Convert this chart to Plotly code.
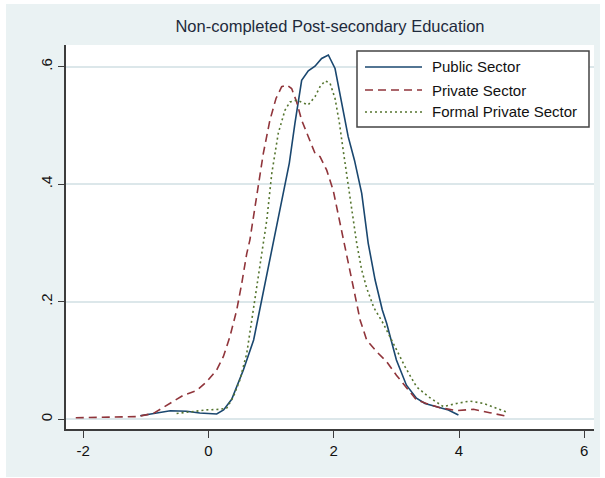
import plotly.graph_objects as go

# Kernel density estimates (x: log wage gap, y: density)
public_x = [-1.09, -0.85, -0.61, -0.35, -0.14, 0.13, 0.24, 0.37, 0.556, 0.72, 0.874, 1.034, 1.168,
            1.29, 1.38, 1.487, 1.593, 1.70, 1.806, 1.913, 2.02, 2.126, 2.23, 2.33, 2.446, 2.55,
            2.66, 2.775, 2.845, 3.0, 3.16, 3.32, 3.456, 3.643, 3.83, 3.99]
public_y = [0.006, 0.010, 0.0146, 0.0136, 0.0107, 0.009, 0.016, 0.034, 0.084, 0.135, 0.217, 0.305, 0.373,
            0.436, 0.504, 0.577, 0.593, 0.601, 0.614, 0.620, 0.597, 0.538, 0.481, 0.441, 0.3845, 0.2995,
            0.237, 0.186, 0.163, 0.101, 0.058, 0.036, 0.027, 0.0215, 0.0158, 0.0073]

private_x = [-2.12, -1.6, -1.15, -0.88, -0.616, -0.40, -0.19, -0.03, 0.13, 0.236, 0.34, 0.45, 0.53,
             0.61, 0.66, 0.77, 0.875, 0.98, 1.077, 1.168, 1.248, 1.327, 1.407, 1.487, 1.593, 1.70,
             1.78, 1.887, 1.99, 2.07, 2.15, 2.206, 2.31, 2.42, 2.525, 2.685, 2.845, 3.0, 3.16,
             3.32, 3.48, 3.696, 3.96, 4.23, 4.49, 4.79]
private_y = [0.0027, 0.003, 0.0045, 0.010, 0.027, 0.041, 0.049, 0.064, 0.084, 0.1066, 0.14, 0.186, 0.231,
             0.282, 0.305, 0.3845, 0.4526, 0.509, 0.546, 0.566, 0.569, 0.563, 0.54, 0.509, 0.481, 0.4526,
             0.447, 0.424, 0.39, 0.35, 0.311, 0.282, 0.226, 0.169, 0.135, 0.115, 0.098, 0.075, 0.053,
             0.033, 0.027, 0.0198, 0.0147, 0.017, 0.0113, 0.0045]

formal_x = [-0.51, -0.24, -0.03, 0.18, 0.29, 0.395, 0.50, 0.61, 0.69, 0.77, 0.85, 0.93, 1.01, 1.114,
            1.22, 1.30, 1.41, 1.51, 1.59, 1.70, 1.78, 1.86, 1.94, 2.02, 2.09, 2.15, 2.216, 2.286,
            2.366, 2.446, 2.526, 2.64, 2.79, 2.977, 3.137, 3.32, 3.51, 3.75, 3.96, 4.17, 4.39, 4.6, 4.79]
formal_y = [0.010, 0.013, 0.016, 0.017, 0.019, 0.038, 0.067, 0.112, 0.169, 0.226, 0.282, 0.339, 0.4186, 0.487,
            0.526, 0.540, 0.543, 0.539, 0.535, 0.549, 0.566, 0.576, 0.572, 0.546, 0.504, 0.458, 0.407, 0.356,
            0.2995, 0.254, 0.223, 0.19, 0.163, 0.1236, 0.0895, 0.0555, 0.0385, 0.0215, 0.027, 0.031, 0.027,
            0.0187, 0.0113]

series_names = ["Public Sector", "Private Sector", "Formal Private Sector"]
x_ticks = [-2, 0, 2, 4, 6]
x_tick_text = ["-2", "0", "2", "4", "6"]
y_ticks = [0, 0.2, 0.4, 0.6]
y_tick_text = ["0", ".2", ".4", ".6"]
title_text = "Non-completed Post-secondary Education"

# styling
W, H = 605, 478
L, R, T, B = 66, 594, 45, 429          # plot area in pixels
BG = "#EAF2F3"
GRID = "#DCE7EA"
AXIS = "#3c3c3c"
FONT = "Arial, Liberation Sans, sans-serif"
colors = ["#1a476f", "#90353b", "#55752f"]
dashes = ["solid", "8px,5px", "2px,3px"]
widths = [1.6, 1.6, 1.6]


def px_x(p):
    return (p - L) / (R - L)


def px_y(p):
    return (B - p) / (B - T)


fig = go.Figure()
for xs, ys, name, c, d, w in zip([public_x, private_x, formal_x],
                                 [public_y, private_y, formal_y],
                                 series_names, colors, dashes, widths):
    fig.add_trace(go.Scatter(x=xs, y=ys, mode="lines", name=name, showlegend=False,
                             line=dict(color=c, dash=d, width=w)))

shapes = [
    # outer graph region
    dict(type="rect", xref="paper", yref="paper", x0=px_x(6), x1=px_x(600), y0=px_y(477), y1=px_y(4),
         fillcolor=BG, line=dict(width=0), layer="below"),
    # plot region
    dict(type="rect", xref="paper", yref="paper", x0=0, x1=1, y0=0, y1=1,
         fillcolor="white", line=dict(width=0), layer="below"),
    # legend box
    dict(type="rect", xref="paper", yref="paper", x0=px_x(357), x1=px_x(589), y0=px_y(127), y1=px_y(51),
         fillcolor="white", line=dict(color="#444444", width=1.5), layer="above"),
]
annotations = []
rows = [67, 90, 112]
for name, c, d, w, ry in zip(series_names, colors, dashes, widths, rows):
    shapes.append(dict(type="line", xref="paper", yref="paper", x0=px_x(365), x1=px_x(422),
                       y0=px_y(ry), y1=px_y(ry), line=dict(color=c, dash=d, width=w), layer="above"))
    annotations.append(dict(text=name, xref="paper", yref="paper", x=px_x(430), y=px_y(ry),
                            xanchor="left", yanchor="middle", showarrow=False,
                            font=dict(family=FONT, size=15, color="#111111")))

fig.update_layout(
    width=W, height=H,
    margin=dict(l=L, r=W - R, t=T, b=H - B, pad=0),
    paper_bgcolor="white",
    plot_bgcolor="rgba(0,0,0,0)",
    title=dict(text=title_text, x=0.5, xref="paper", xanchor="center", y=1 - 26 / H, yanchor="middle",
               font=dict(family=FONT, size=16.5, color="#1e2a3c")),
    shapes=shapes,
    annotations=annotations,
    xaxis=dict(range=[-2.276, 6.155], tickvals=x_ticks, ticktext=x_tick_text, showgrid=False,
               zeroline=False, showline=True, linecolor=AXIS, linewidth=1.5,
               ticks="outside", ticklen=7, tickwidth=1.3, tickcolor=AXIS,
               tickfont=dict(family=FONT, size=15, color="#111111")),
    yaxis=dict(range=[-0.0165, 0.637], tickvals=y_ticks, ticktext=y_tick_text, showgrid=True,
               gridcolor=GRID, gridwidth=1.5, zeroline=False, showline=True, linecolor=AXIS,
               linewidth=1.5, ticks="outside", ticklen=6, tickwidth=1.3, tickcolor=AXIS,
               tickangle=-90, tickfont=dict(family=FONT, size=15, color="#111111")),
)

fig.write_html("out.html")
